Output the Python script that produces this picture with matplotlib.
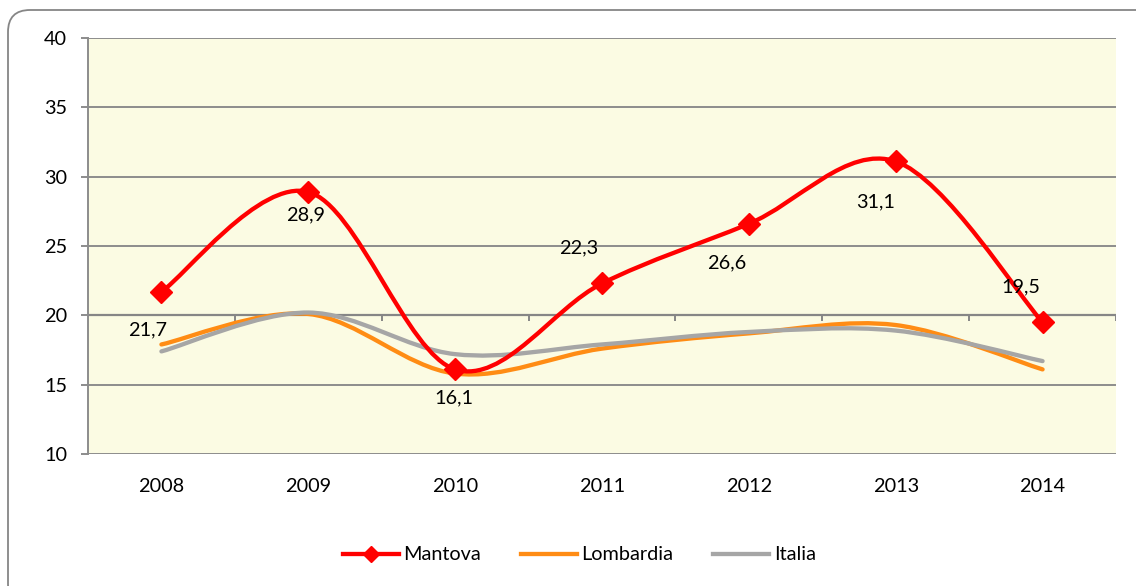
import matplotlib
matplotlib.use("Agg")
import matplotlib.pyplot as plt
import numpy as np
from matplotlib.path import Path
from matplotlib.patches import PathPatch, FancyBboxPatch
from matplotlib.transforms import IdentityTransform
from matplotlib.lines import Line2D

years = ["2008", "2009", "2010", "2011", "2012", "2013", "2014"]
mantova = [21.7, 28.9, 16.1, 22.3, 26.6, 31.1, 19.5]
lombardia = [17.9, 20.1, 15.8, 17.6, 18.7, 19.3, 16.1]
italia = [17.4, 20.2, 17.2, 17.9, 18.8, 18.9, 16.7]
mantova_labels = ["21,7", "28,9", "16,1", "22,3", "26,6", "31,1", "19,5"]

# label offsets in pixels (style)
label_offsets = [(-14, -38), (-3, -23), (-1, -28), (-23, 36), (-22, -39), (-20, -40), (-22, 35)]

plt.rcParams['font.family'] = ['Lato', 'DejaVu Sans']
FS = 14.3

fig = plt.figure(figsize=(11.36, 5.86), dpi=100)
W, H = 1136, 586
ax = fig.add_axes([88 / W, 1 - 454 / H, (1116 - 88) / W, (454 - 38) / H])
ax.set_facecolor('#FBFBE3')

x = np.arange(len(years))


def smooth_path(xs, ys):
    pts = np.column_stack([xs, ys]).astype(float)
    n = len(pts)
    verts = [pts[0]]
    codes = [Path.MOVETO]
    for i in range(n - 1):
        p0 = pts[i - 1] if i > 0 else pts[i]
        p1 = pts[i]
        p2 = pts[i + 1]
        p3 = pts[i + 2] if i + 2 < n else pts[i + 1]
        c1 = p1 + (p2 - p0) / 6.0
        c2 = p2 - (p3 - p1) / 6.0
        verts += [c1, c2, p2]
        codes += [Path.CURVE4] * 3
    return Path(verts, codes)


grid_c = '#8C8C8C'
for yv in [15, 25, 30, 35, 40]:
    ax.axhline(yv, color=grid_c, lw=1.4, zorder=1)
ax.axhline(10, color=grid_c, lw=1.4, zorder=1)
# category axis crossing at 20
ax.axhline(20, color='#868686', lw=1.6, zorder=1)
bounds = np.arange(len(years) + 1) - 0.5
ax.vlines(bounds[1:], 20 - 0.42, 20, color='#868686', lw=1.4, zorder=1)

series = [
    (lombardia, '#FF8C14', 'Lombardia'),
    (italia, '#A6A6A6', 'Italia'),
    (mantova, '#FF0000', 'Mantova'),
]
for vals, col, name in series:
    pp = PathPatch(smooth_path(x, vals), facecolor='none', edgecolor=col,
                   lw=3.1, capstyle='round', joinstyle='round', zorder=3)
    ax.add_patch(pp)

ax.plot(x, mantova, linestyle='none', marker='D', color='#FF0000', ms=11, zorder=4)

for xi, yi, lab, off in zip(x, mantova, mantova_labels, label_offsets):
    ax.annotate(lab, (xi, yi), xytext=off, textcoords='offset pixels',
                ha='center', va='center', fontsize=FS, color='black', zorder=5)

ax.set_xlim(-0.5, len(years) - 0.5)
ax.set_ylim(10, 40)
ax.set_yticks([10, 15, 20, 25, 30, 35, 40])
ax.set_xticks(x)
ax.set_xticklabels(years)
ax.tick_params(axis='y', length=5, width=1.4, color=grid_c, pad=10, labelsize=FS)
ax.tick_params(axis='x', length=0, pad=17, labelsize=FS)
for s in ['top', 'right', 'bottom']:
    ax.spines[s].set_visible(False)
ax.spines['left'].set_color(grid_c)
ax.spines['left'].set_linewidth(1.4)

handles = [
    Line2D([], [], color='#FF0000', lw=3.1, marker='D', ms=8),
    Line2D([], [], color='#FF8C14', lw=3.1),
    Line2D([], [], color='#A6A6A6', lw=3.1),
]
fig.legend(handles, ['Mantova', 'Lombardia', 'Italia'], loc='center',
           bbox_to_anchor=(0.51, 1 - 555 / H), ncol=3, frameon=False,
           fontsize=FS, handlelength=2.8, columnspacing=2.0, handletextpad=0.25)

frame = FancyBboxPatch((8, -20), 1160, 586 - 10 + 20, boxstyle="round,pad=0,rounding_size=22",
                       transform=IdentityTransform(), facecolor='none', edgecolor='#868686', lw=1.3)
fig.add_artist(frame)

fig.savefig('out.png', dpi=100)
